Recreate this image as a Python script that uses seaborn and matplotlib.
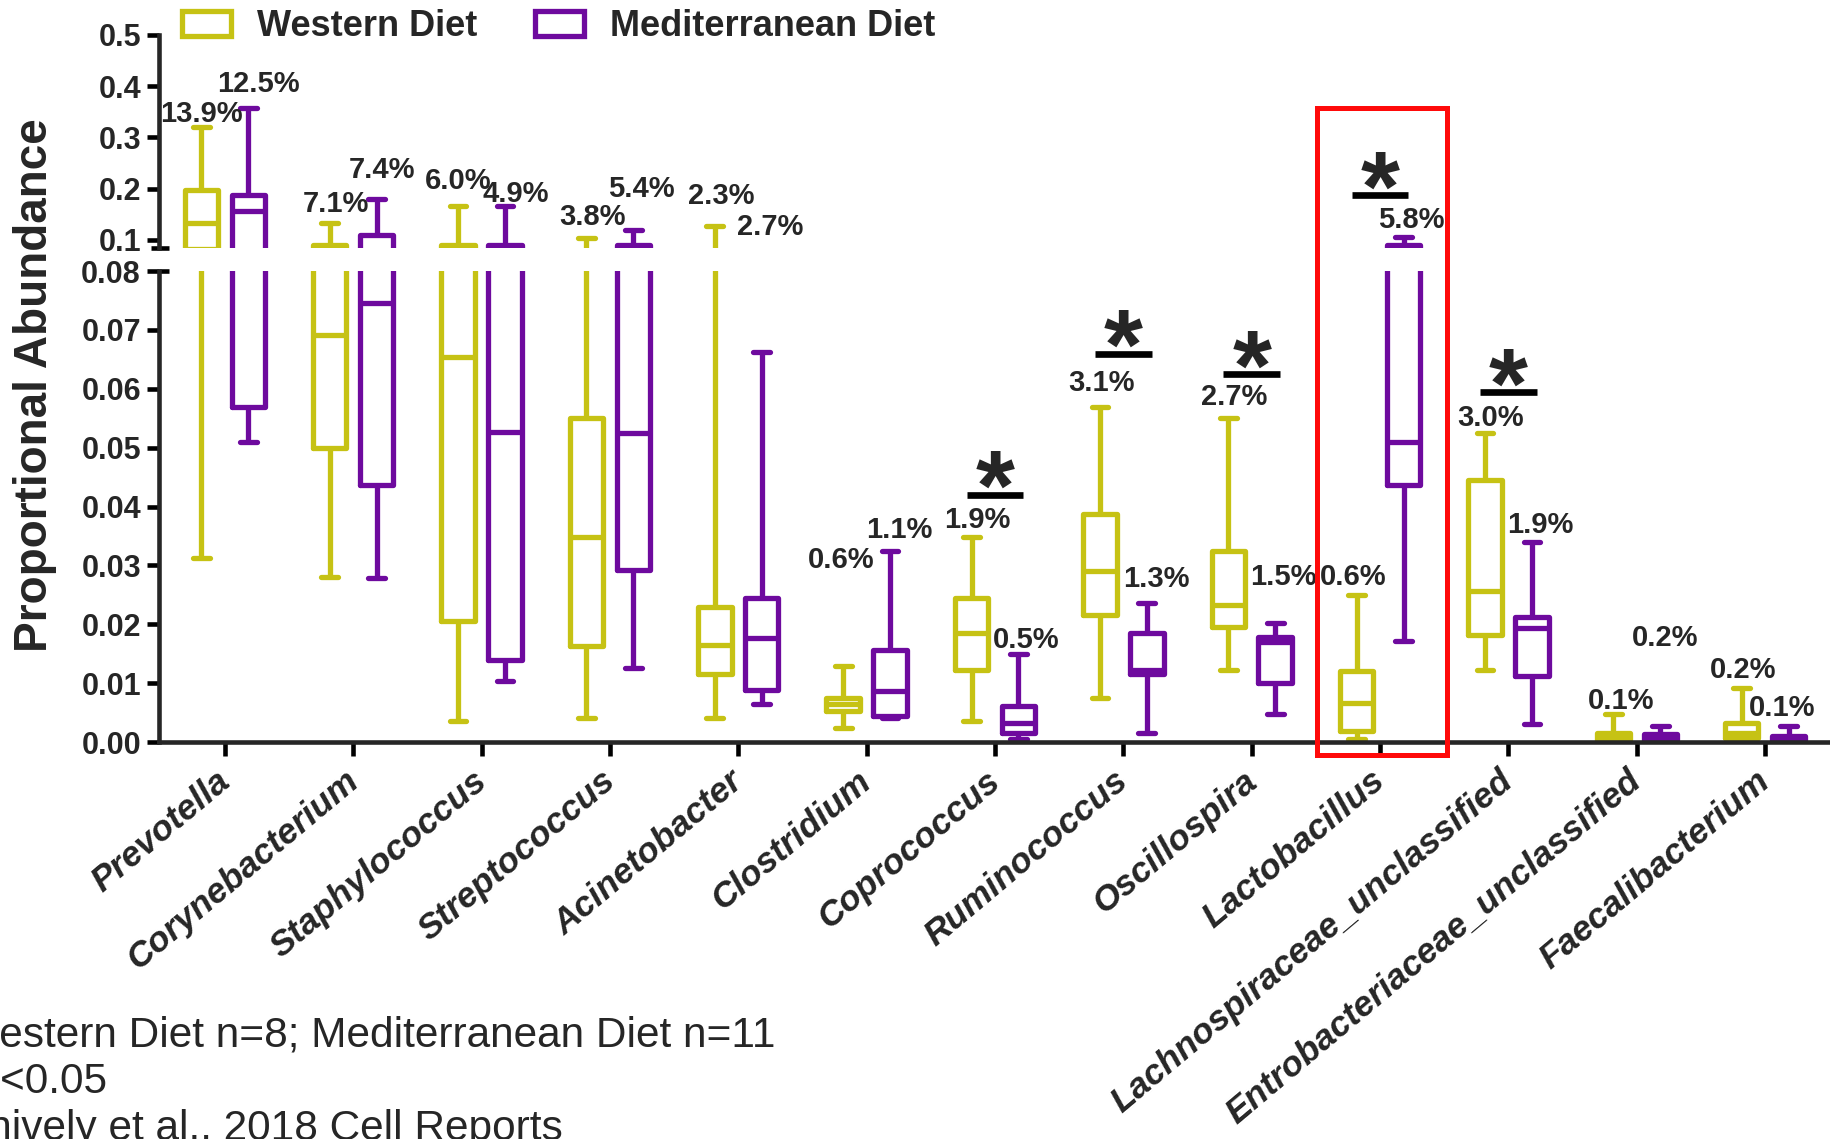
import numpy as np
import pandas as pd
import matplotlib
matplotlib.use("Agg")
import matplotlib.pyplot as plt
import matplotlib.transforms as mtransforms
from matplotlib.patches import Rectangle, Patch
from matplotlib.ticker import FormatStrFormatter
import seaborn as sns

# ---------------------------------------------------------------- data
genera = [
    "Prevotella", "Corynebacterium", "Staphylococcus", "Streptococcus",
    "Acinetobacter", "Clostridium", "Coprococcus", "Ruminococcus",
    "Oscillospira", "Lactobacillus", "Lachnospiraceae_unclassified",
    "Entrobacteriaceae_unclassified", "Faecalibacterium",
]
diets = ["Western Diet", "Mediterranean Diet"]

# five-number summaries (min, Q1, median, Q3, max) of proportional abundance
western_min = [0.0312, 0.0281, 0.0036, 0.0041, 0.0040, 0.0024, 0.0036, 0.0075, 0.0123, 0.0005, 0.0123, 0.0002, 0.0003]
western_q1 = [0.0830, 0.0499, 0.0205, 0.0163, 0.0115, 0.0053, 0.0123, 0.0216, 0.0196, 0.0019, 0.0182, 0.0003, 0.0007]
western_med = [0.133, 0.0692, 0.0654, 0.0349, 0.0165, 0.0064, 0.0185, 0.0290, 0.0233, 0.0067, 0.0256, 0.0007, 0.0016]
western_q3 = [0.197, 0.089, 0.089, 0.0550, 0.0230, 0.0075, 0.0244, 0.0388, 0.0324, 0.0120, 0.0445, 0.0016, 0.0033]
western_max = [0.320, 0.132, 0.167, 0.103, 0.127, 0.0129, 0.0348, 0.0569, 0.0550, 0.0250, 0.0524, 0.0047, 0.0092]

mediterranean_min = [0.0510, 0.0278, 0.0103, 0.0126, 0.0064, 0.0041, 0.0005, 0.0016, 0.0047, 0.0171, 0.0030, 0.0001, 0.0001]
mediterranean_q1 = [0.0569, 0.0436, 0.0140, 0.0292, 0.0089, 0.0044, 0.0016, 0.0115, 0.0100, 0.0436, 0.0112, 0.0003, 0.0003]
mediterranean_med = [0.157, 0.0746, 0.0527, 0.0524, 0.0177, 0.0086, 0.0033, 0.0123, 0.0170, 0.0510, 0.0194, 0.0007, 0.0006]
mediterranean_q3 = [0.187, 0.110, 0.089, 0.089, 0.0245, 0.0157, 0.0061, 0.0185, 0.0178, 0.089, 0.0213, 0.0013, 0.0010]
mediterranean_max = [0.357, 0.180, 0.167, 0.120, 0.0662, 0.0324, 0.0149, 0.0236, 0.0202, 0.105, 0.0340, 0.0027, 0.0027]

# mean relative abundance of each genus
western_mean = ["13.9%", "7.1%", "6.0%", "3.8%", "2.3%", "0.6%", "1.9%", "3.1%", "2.7%", "0.6%", "3.0%", "0.1%", "0.2%"]
mediterranean_mean = ["12.5%", "7.4%", "4.9%", "5.4%", "2.7%", "1.1%", "0.5%", "1.3%", "1.5%", "5.8%", "1.9%", "0.2%", "0.1%"]

significant = ["Coprococcus", "Ruminococcus", "Oscillospira", "Lactobacillus", "Lachnospiraceae_unclassified"]
highlighted = "Lactobacillus"

footnotes = [
    "Western Diet n=8; Mediterranean Diet n=11",
    "*p<0.05",
    "Shively et al., 2018 Cell Reports",
]

# ---------------------------------------------------------------- layout / style
colors = ["#C6C214", "#6E0A9E"]
mean_dx_w = [0, 6, 0, 6, 6, -2, 6, 2, 6, -3, 6, 8, 2]
mean_dy_w = [13, 19, 25, 21, 30, 106, 17, 24, 21, 18, 15, 13, 18]
mean_dx_m = [10, 5, 11, 8, 8, 9, 8, 10, 8, 8, 8, 5, -6]
mean_dy_m = [24, 29, 12, 41, 125, 21, 14, 24, 46, 17, 17, 88, 18]
sig_dy = [42, 53, 44, 42, 41]

summaries = {
    diets[0]: (western_min, western_q1, western_med, western_q3, western_max),
    diets[1]: (mediterranean_min, mediterranean_q1, mediterranean_med, mediterranean_q3, mediterranean_max),
}
rows = []
for diet, stats in summaries.items():
    for g, *vals in zip(genera, *stats):
        for v in vals:
            rows.append({"genus": g, "diet": diet, "abundance": v})
df = pd.DataFrame(rows)

sns.set_theme(style="ticks")
plt.rcParams["font.family"] = ["Liberation Sans", "DejaVu Sans"]
plt.rcParams["font.weight"] = "bold"

W, H = 1831, 1139
fig = plt.figure(figsize=(W / 100, H / 100), dpi=100)
fig.patch.set_facecolor("white")
left = 159 / W
ax_lo = fig.add_axes([left, 1 - 742 / H, 1 - left, (742 - 271) / H])
ax_hi = fig.add_axes([left, 1 - 248 / H, 1 - left, (248 - 35) / H])

LW = 3.8
box_width = 0.732
for ax in (ax_lo, ax_hi):
    sns.boxplot(
        data=df, x="genus", y="abundance", hue="diet", order=genera,
        hue_order=diets, palette=colors, fill=False, whis=(0, 100),
        width=box_width, gap=0.29, linewidth=LW, showfliers=False,
        legend=False, ax=ax,
    )
    ax.set_xlim(-0.514, len(genera) - 1 + 0.514)
    ax.set_xlabel("")
    ax.set_ylabel("")
    ax.set_facecolor("none")
    for side in ("top", "right"):
        ax.spines[side].set_visible(False)
    ax.spines["left"].set_linewidth(3.3)
    ax.tick_params(axis="y", length=9, width=3.3, labelsize=22, pad=4, color="black")

ax_lo.set_ylim(0, 0.08)
ax_hi.set_ylim(0.084, 0.5)
hi_floor = 0.084

ax_lo.set_yticks(np.arange(0, 0.0801, 0.01))
ax_lo.yaxis.set_major_formatter(FormatStrFormatter("%.2f"))
ax_hi.set_yticks([0.1, 0.2, 0.3, 0.4, 0.5])
ax_hi.yaxis.set_major_formatter(FormatStrFormatter("%.1f"))

ax_hi.spines["bottom"].set_visible(False)
ax_hi.tick_params(axis="x", bottom=False, labelbottom=False)
ax_lo.spines["bottom"].set_linewidth(3.3)
ax_lo.tick_params(axis="x", length=10, width=3.3, pad=6, color="black")
ax_lo.set_xticks(range(len(genera)))
ax_lo.set_xticklabels(genera, rotation=40, ha="right", rotation_mode="anchor",
                      fontsize=25.5, fontweight="bold", fontstyle="italic")
shift = mtransforms.ScaledTranslation(-10 / 100, 0, fig.dpi_scale_trans)
for lab in ax_lo.get_xticklabels():
    lab.set_transform(lab.get_transform() + shift)

# axis-break caps on the left spine
axes_px = W * (1 - left)
brk = dict(color="black", lw=3.3, solid_capstyle="butt", clip_on=False)
ax_hi.plot([-8 / axes_px, 10 / axes_px], [0, 0], transform=ax_hi.transAxes, **brk)
ax_lo.plot([0, 10 / axes_px], [1, 1], transform=ax_lo.transAxes, **brk)

# mean labels above each whisker
offsets = [-box_width / 4, box_width / 4]
label_sets = [
    (western_max, western_mean, mean_dx_w, mean_dy_w),
    (mediterranean_max, mediterranean_mean, mean_dx_m, mean_dy_m),
]
for k, (tops, texts, dxs, dys) in enumerate(label_sets):
    for i, (v, txt, dx, dy) in enumerate(zip(tops, texts, dxs, dys)):
        ax = ax_hi if v > hi_floor else ax_lo
        ax.annotate(txt, xy=(i + offsets[k], v), xytext=(dx, dy),
                    textcoords="offset pixels", ha="center", va="center",
                    fontsize=21, fontweight="bold", annotation_clip=False)

# significance marks
for g, dy in zip(significant, sig_dy):
    i = genera.index(g)
    top = max(western_max[i], mediterranean_max[i])
    ax = ax_hi if top > hi_floor else ax_lo
    tr = mtransforms.offset_copy(ax.transData, fig=fig, x=0, y=dy, units="dots")
    ax.plot([i - 0.22, i + 0.22], [top, top], transform=tr, color="black",
            lw=4.8, solid_capstyle="butt", clip_on=False)
    ax.annotate("*", xy=(i, top), xytext=(0, dy - 25), textcoords="offset pixels",
                ha="center", va="baseline", fontsize=72, fontweight="bold",
                annotation_clip=False)

# highlight frame around one genus
i = genera.index(highlighted)
frame_tr = mtransforms.blended_transform_factory(ax_lo.transData, fig.transFigure)
fig.add_artist(Rectangle((i - 0.49, 1 - 755 / H), 1.01, (755 - 108) / H,
                         transform=frame_tr, fill=False, edgecolor="#FF0A0A",
                         lw=3.6, clip_on=False))

# legend
handles = [Patch(facecolor="none", edgecolor=c, linewidth=LW, label=d)
           for d, c in zip(diets, colors)]
fig.legend(handles=handles, loc="upper left", bbox_to_anchor=(182 / W, 1 - 9 / H),
           ncol=2, frameon=False, prop=dict(size=26, weight="bold"),
           handlelength=1.36, handleheight=0.7, handletextpad=0.72,
           columnspacing=1.6, borderpad=0, borderaxespad=0)

# y-axis title
fig.text(35 / W, 1 - 385 / H, "Proportional Abundance", rotation=90,
         fontsize=33, fontweight="bold", ha="center", va="center")

# footnotes
for text, base in zip(footnotes, (1047, 1093, 1140)):
    fig.text(-40 / W, 1 - base / H, text, fontsize=30.5, fontweight="normal",
             ha="left", va="baseline")

fig.savefig("out.png", dpi=100, facecolor="white")
